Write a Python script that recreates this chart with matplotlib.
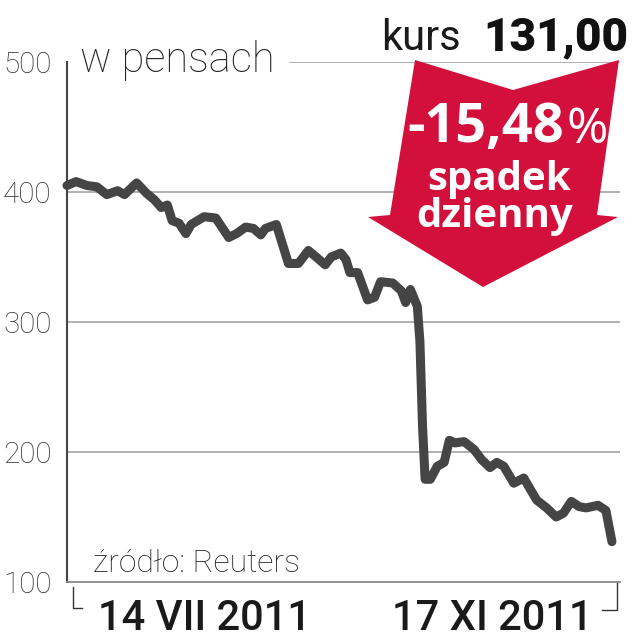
import numpy as np
import matplotlib
matplotlib.use('Agg')
import matplotlib.pyplot as plt
from matplotlib.patches import Polygon
from matplotlib.lines import Line2D

# kurs w pensach, dni od 14 VII 2011
days = [0, 2.1, 4.6, 6.9, 9.2, 11.7, 13.3, 16.1, 18.4, 20.2, 21.8, 23.2, 24.3, 25.9,
        27.5, 28.7, 31.7, 34.4, 37.4, 39.2, 41.3, 43.1, 44.8, 45.9, 48.4, 51.2, 53.5,
        55.8, 57.6, 59.7, 61.1, 63.3, 64.5, 65.4, 67.2, 69.5, 71.1, 72.5, 75.3, 77.3,
        78.3, 79.4, 81.0, 81.6, 82.2, 82.8, 84.0, 85.6, 87.2, 88.4, 89.7, 91.8, 94.1,
        95.9, 97.8, 99.4, 101.0, 103.3, 105.6, 107.0, 108.6, 110.9, 113.1, 114.8,
        116.6, 118.4, 120.0, 122.8, 124.6, 126.0]
price = [405, 408, 405, 404, 398, 401, 398, 407, 399, 394, 388, 390, 378, 376,
         368, 375, 381, 380, 365, 368, 373, 372, 367, 372, 375, 345, 345,
         355, 350, 344, 350, 353, 348, 338, 338, 317, 319, 331, 330, 324,
         315, 325, 312, 285, 220, 179, 179, 189, 192, 209, 207, 208, 202,
         194, 188, 192, 189, 176, 180, 172, 163, 157, 150, 153,
         162, 158, 157, 159, 155, 131]

yticks = [100, 200, 300, 400, 500]
date_left = '14 VII 2011'
date_right = '17 XI 2011'
unit = 'w pensach'
source = 'źródło: Reuters'
kurs = '131,00'
change = '-15,48'

W, H = 636, 640
RED = '#d3103c'
LINE = '#454545'


def fx(x):
    return x / W


def fy(y):
    return 1 - y / H


fig = plt.figure(figsize=(W / 100, H / 100), dpi=100)
ax = fig.add_axes([fx(67), fy(582), (620 - 67) / W, (582 - 62) / H])
ax.set_xlim(0, (620 - 67) / 4.325)
ax.set_ylim(100, 500)

for s in ['top', 'right']:
    ax.spines[s].set_visible(False)
ax.spines['left'].set_color('#444444')
ax.spines['left'].set_linewidth(1.5)
ax.spines['bottom'].set_color('#888888')
ax.spines['bottom'].set_linewidth(1.3)
ax.set_xticks([])
ax.set_yticks(yticks)
ax.set_yticklabels([str(v) for v in yticks], fontsize=21.3, color='#333333',
                   family='Roboto', weight='light')
ax.tick_params(axis='y', length=0, pad=11)

for v in yticks[1:-1]:
    ax.axhline(v, color='#a3a3a3', lw=1.2, zorder=1)
ax.axhline(500, xmin=(290 - 67) / 553, color='#a3a3a3', lw=1.2, zorder=1)

ax.plot(days, price, color=LINE, lw=6.5, solid_capstyle='round',
        solid_joinstyle='round', zorder=3, clip_on=False)

# strzalka
verts = [(415, 60), (513, 90), (619, 60), (597, 215), (618, 217),
         (483, 287), (368, 217), (390, 215)]
fig.add_artist(Polygon([(fx(a), fy(b)) for a, b in verts], closed=True,
                       facecolor=RED, edgecolor='none',
                       transform=fig.transFigure, zorder=5))

t1 = fig.text(fx(407), fy(142), change, color='white', fontsize=39,
              family='Open Sans', weight='bold', ha='left', va='baseline', zorder=6)
fig.add_artist(plt.Annotation('%', xy=(1, 0), xycoords=t1, xytext=(2, 0),
                              textcoords='offset points', color='white',
                              fontsize=36, family='Open Sans', weight='normal',
                              va='bottom', ha='left', zorder=6))
fig.text(fx(499), fy(190), 'spadek', color='white', fontsize=29,
         family='Open Sans', weight='bold', ha='center', va='baseline', zorder=6)
fig.text(fx(495), fy(227), 'dzienny', color='white', fontsize=29,
         family='Open Sans', weight='bold', ha='center', va='baseline', zorder=6)

# naglowek
fig.text(fx(628), fy(50), kurs, color='#111111', fontsize=33,
         family='Roboto', weight='heavy', ha='right', va='baseline')
fig.text(fx(461), fy(50), 'kurs', color='#1a1a1a', fontsize=30,
         family='Roboto', ha='right', va='baseline')
fig.text(fx(80), fy(72), unit, color='#222222', fontsize=30,
         family='Roboto', weight='light', ha='left', va='baseline')

fig.text(fx(93), fy(572), source, color='#222222', fontsize=23,
         family='Roboto', weight='light', ha='left', va='baseline')

fig.text(fx(98), fy(630), date_left, color='#1a1a1a', fontsize=30,
         family='Roboto', weight='medium', ha='left', va='baseline')
fig.text(fx(593), fy(630), date_right, color='#1a1a1a', fontsize=30,
         family='Roboto', weight='medium', ha='right', va='baseline')

# nawiasy zakresu dat
fig.add_artist(Line2D([fx(73), fx(73), fx(82)], [fy(587), fy(608), fy(608)],
                      color='#333333', lw=1, transform=fig.transFigure))
fig.add_artist(Line2D([fx(617), fx(617), fx(602)], [fy(583), fy(610), fy(610)],
                      color='#333333', lw=1, transform=fig.transFigure))

fig.savefig('out.png', dpi=100)
